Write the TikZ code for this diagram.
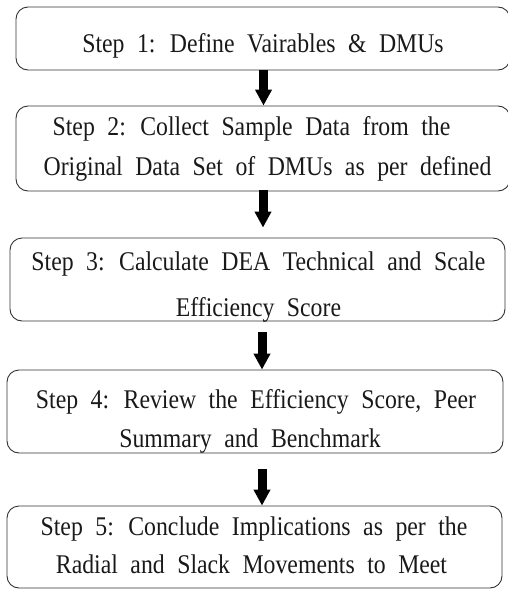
\documentclass[tikz,border=0pt]{standalone}
\usepackage{fontspec}
\setmainfont[FakeStretch=0.88]{Liberation Serif}
\usetikzlibrary{arrows.meta}

\newcommand\stepfont{\fontsize{27pt}{32pt}\selectfont\spaceskip=12.5pt\relax}

\tikzset{
  stepbox/.style={draw=black!80, line width=0.9pt, rounded corners=12pt,
    inner sep=0pt, fill=none},
  steptext/.style={anchor=base, inner sep=0pt, text=black!90, font=\stepfont},
  flow/.style={line width=9pt, black,
    -{Triangle[width=16pt,length=16pt]}}
}

\begin{document}
\begin{tikzpicture}[x=1pt,y=-1pt]
  % page frame
  \path[use as bounding box] (0,0) rectangle (508,589);
  \begin{scope}
    \clip (0,0) rectangle (508,589);

    % boxes
    \node[stepbox, minimum width=494pt, minimum height=63pt] (b1) at (263,38.5) {};
    \node[stepbox, minimum width=494pt, minimum height=85pt] (b2) at (263,148.5) {};
    \node[stepbox, minimum width=495pt, minimum height=83pt] (b3) at (257.5,279.5) {};
    \node[stepbox, minimum width=496pt, minimum height=83pt] (b4) at (255,411.5) {};
    \node[stepbox, minimum width=495pt, minimum height=82pt] (b5) at (254.5,547) {};

    % texts
    \node[steptext] (t1)  at (263,52)    {Step 1: Define Vairables \& DMUs};
    \node[steptext] (t2a) at (251.5,135) {Step 2: Collect Sample Data from the};
    \node[steptext] (t2b) at (267.5,175) {Original Data Set of DMUs as per defined};
    \node[steptext] (t3a) at (258.5,270) {Step 3: Calculate DEA Technical and Scale};
    \node[steptext] (t3b) at (258.5,316) {Efficiency Score};
    \node[steptext] (t4a) at (256,408)   {Step 4: Review the Efficiency Score, Peer};
    \node[steptext] (t4b) at (250,447)   {Summary and Benchmark};
    \node[steptext] (t5a) at (254,535)   {Step 5: Conclude Implications as per the};
    \node[steptext] (t5b) at (251.5,573) {Radial and Slack Movements to Meet};

    % connectors
    \draw[flow] ([xshift=0.5pt]b1.south) -- ([xshift=0.5pt]b2.north);
    \draw[flow, shorten >=10pt] ([yshift=1pt]b2.south) -- ([xshift=5.5pt]b3.north);
    \draw[flow, shorten <=11pt] ([xshift=4.5pt]b3.south) -- ([xshift=7pt]b4.north);
    \draw[flow, shorten <=16pt] ([xshift=7pt]b4.south) -- ([xshift=7.5pt]b5.north);
  \end{scope}
\end{tikzpicture}
\end{document}
